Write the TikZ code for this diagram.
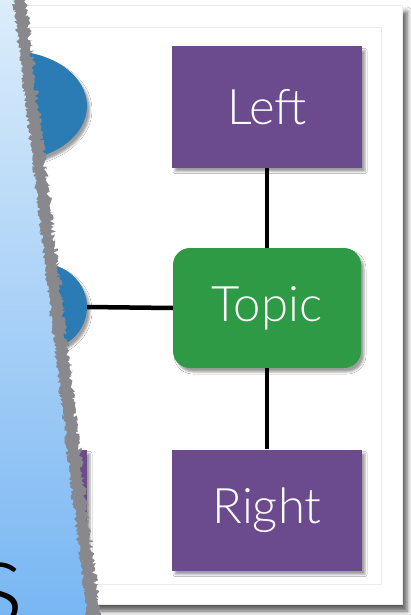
\documentclass[tikz,border=0pt]{standalone}
\usepackage{fontspec}
\IfFontExistsTF{Lato Light}
  {\setmainfont{Lato Light}}
  {\setmainfont{TeX Gyre Heros}}
\usetikzlibrary{shapes.geometric,shadows.blur,decorations.pathmorphing}

\definecolor{slidepurple}{HTML}{6C4A8E}
\definecolor{topicgreen}{HTML}{2E9A45}
\definecolor{bubbleblue}{HTML}{2B7CB5}
\definecolor{tearedge}{HTML}{89898D}
\definecolor{paperlight}{HTML}{DCEDFB}
\definecolor{paperdeep}{HTML}{78B6F3}
\definecolor{framegray}{HTML}{EBEBEB}

\begin{document}
\begin{tikzpicture}[x=1pt,y=-1pt,
  softshadow/.style={blur shadow={shadow xshift=3pt,shadow yshift=-4pt,
      shadow blur radius=2pt,shadow opacity=38}},
  sidebox/.style={rectangle,fill=slidepurple,minimum width=190pt,
      minimum height=121pt,inner sep=0pt,text=white,
      font=\fontsize{49}{52}\selectfont,softshadow},
  topicbox/.style={sidebox,fill=topicgreen,rounded corners=17pt,
      minimum width=188pt,minimum height=120pt},
  bubble/.style={ellipse,fill=bubbleblue,inner sep=0pt,softshadow},
  link/.style={line width=4.5pt,black}]

\useasboundingbox (0,0) rectangle (411,615);
\fill[white] (0,0) rectangle (411,615);

% slide card with its shadow and inner frame
\fill[white,blur shadow={shadow xshift=5pt,shadow yshift=-7pt,
    shadow blur radius=5pt,shadow opacity=65}] (-20,5) rectangle (402,604);
\draw[framegray,line width=0.6pt] (-20,5) rectangle (402,604);
\draw[framegray,line width=1pt] (-20,28) rectangle (381,584);

% mind-map nodes
\node[bubble,minimum width=154pt,minimum height=110pt] (upper) at (10,106) {};
\node[bubble,minimum width=94pt,minimum height=88pt] (lower) at (40,307) {};
\node[sidebox,minimum width=120pt] (hidden) at (27,510) {};
\node[sidebox] (left) at (267,107) {Left};
\node[topicbox] (topic) at (267,308) {Topic};
\node[sidebox] (right) at (267,510) {Right};

% connectors
\draw[link] (left) -- (topic);
\draw[link] (topic) -- (right);
\draw[link] (lower.east) -- (topic.west);

% torn paper sheet lying over the left side
\pgfmathsetseed{7}
\fill[tearedge,decoration={random steps,segment length=1.6pt,amplitude=2.6pt}]
  (-2,-2) -- (25,-2) decorate{-- (100,617)} -- (-2,617) -- cycle;
\shade[top color=paperlight,bottom color=paperdeep,
    decoration={random steps,segment length=1.6pt,amplitude=2pt}]
  (-2,-2) -- (13,-2) decorate{-- (87,617)} -- (-2,617) -- cycle;
\node[anchor=base east,inner sep=0pt,font=\fontsize{124}{130}\selectfont]
  (tail) at (24,625) {s};

\end{tikzpicture}
\end{document}
